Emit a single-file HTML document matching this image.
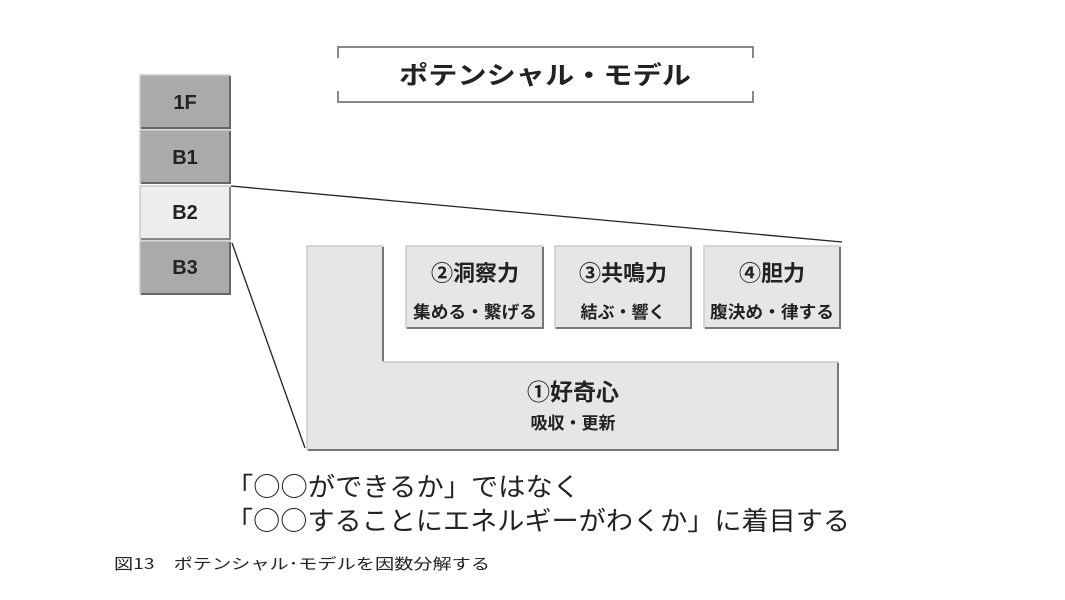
<!DOCTYPE html>
<html><head><meta charset="utf-8"><style>
html,body{margin:0;padding:0;background:#fff;}
svg{display:block;}
text{font-family:"Liberation Sans","Noto Sans CJK JP",sans-serif;fill:#222;}
text.j{font-family:"Noto Sans CJK JP",sans-serif;}
</style></head><body>
<svg width="1065" height="600" viewBox="0 0 1065 600" xmlns="http://www.w3.org/2000/svg">
<path d="M338 58 V47 H753 V58" fill="none" stroke="#888" stroke-width="2"/>
<path d="M338 91 V102 H753 V91" fill="none" stroke="#888" stroke-width="2"/>
<text class="j" x="545" y="84" text-anchor="middle" font-size="25" font-weight="bold" textLength="292" lengthAdjust="spacingAndGlyphs">ポテンシャル・モデル</text>

<g stroke-width="1.5">
<rect x="140" y="75" width="90" height="53" fill="#aaa" stroke="#ccc"/>
<path d="M230 76 V128 H141" fill="none" stroke="#666" stroke-width="2"/>
<rect x="140" y="130" width="90" height="53" fill="#aaa" stroke="#ccc"/>
<path d="M230 131 V183 H141" fill="none" stroke="#666" stroke-width="2"/>
<rect x="140" y="186" width="90" height="53" fill="#eee" stroke="#ccc"/>
<path d="M230 187 V239 H141" fill="none" stroke="#888" stroke-width="2"/>
<rect x="140" y="241" width="90" height="53" fill="#aaa" stroke="#ccc"/>
<path d="M230 242 V294 H141" fill="none" stroke="#666" stroke-width="2"/>
</g>
<text x="185" y="109" text-anchor="middle" font-size="20" font-weight="bold">1F</text>
<text x="185" y="164" text-anchor="middle" font-size="20" font-weight="bold">B1</text>
<text x="185" y="219" text-anchor="middle" font-size="20" font-weight="bold">B2</text>
<text x="185" y="274" text-anchor="middle" font-size="20" font-weight="bold">B3</text>

<line x1="231" y1="186" x2="842" y2="242" stroke="#222" stroke-width="1.3"/>
<line x1="232" y1="243" x2="305" y2="448" stroke="#222" stroke-width="1.3"/>

<path d="M307 246 H383 V362 H838 V450 H307 Z" fill="#e6e6e6" stroke="#ccc" stroke-width="1.5"/>
<path d="M383 247 V361 M838 363 V450 H308" fill="none" stroke="#777" stroke-width="2"/>
<text class="j" x="573" y="400" text-anchor="middle" font-size="23" font-weight="bold">①好奇心</text>
<text class="j" x="573" y="429" text-anchor="middle" font-size="17" font-weight="bold">吸収・更新</text>

<g>
<rect x="406" y="246" width="137" height="82" fill="#e6e6e6" stroke="#ccc" stroke-width="1.5"/>
<path d="M543 247 V328 H407" fill="none" stroke="#777" stroke-width="2"/>
<rect x="555" y="246" width="136" height="82" fill="#e6e6e6" stroke="#ccc" stroke-width="1.5"/>
<path d="M691 247 V328 H556" fill="none" stroke="#777" stroke-width="2"/>
<rect x="704" y="246" width="136" height="82" fill="#e6e6e6" stroke="#ccc" stroke-width="1.5"/>
<path d="M840 247 V328 H705" fill="none" stroke="#777" stroke-width="2"/>
</g>
<text class="j" x="475" y="281" text-anchor="middle" font-size="22" font-weight="bold">②洞察力</text>
<text class="j" x="475" y="318" text-anchor="middle" font-size="17" font-weight="bold" textLength="124" lengthAdjust="spacingAndGlyphs">集める・繋げる</text>
<text class="j" x="623" y="281" text-anchor="middle" font-size="22" font-weight="bold">③共鳴力</text>
<text class="j" x="623" y="318" text-anchor="middle" font-size="17" font-weight="bold">結ぶ・響く</text>
<text class="j" x="772" y="281" text-anchor="middle" font-size="22" font-weight="bold">④胆力</text>
<text class="j" x="772" y="318" text-anchor="middle" font-size="17" font-weight="bold" textLength="124" lengthAdjust="spacingAndGlyphs">腹決め・律する</text>

<text class="j" x="226" y="496" font-size="26" textLength="354" lengthAdjust="spacingAndGlyphs">「○○ができるか」ではなく</text>
<text class="j" x="226" y="530" font-size="26" textLength="624" lengthAdjust="spacingAndGlyphs">「○○することにエネルギーがわくか」に着目する</text>

<text class="j" x="114" y="569" font-size="15" textLength="376" lengthAdjust="spacingAndGlyphs">図13　ポテンシャル･モデルを因数分解する</text>
</svg>
</body></html>
